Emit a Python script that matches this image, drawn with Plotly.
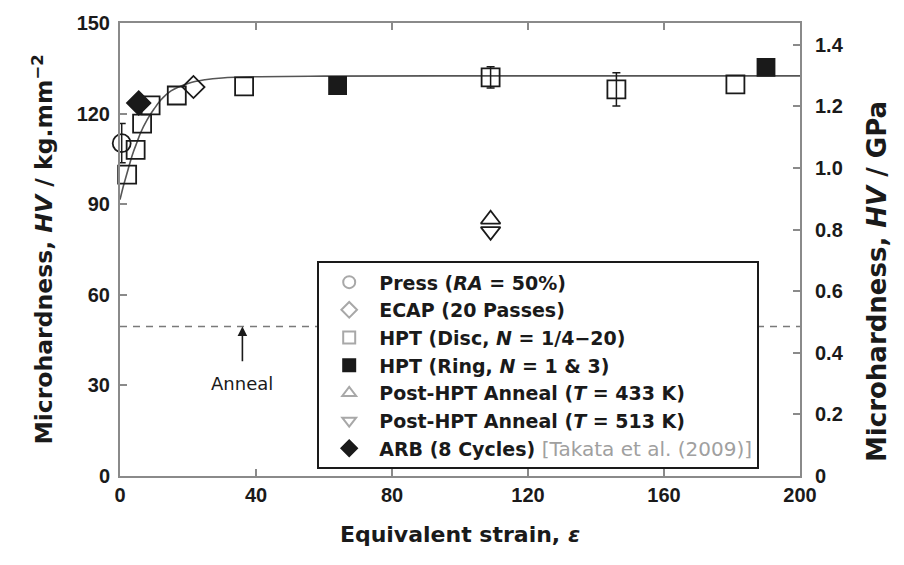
import plotly.graph_objects as go

# Microhardness vs equivalent strain for the different SPD routes
press_eps = [0.5]
press_hv = [110.2]
press_err = [6.5]

ecap_eps = [21.6]
ecap_hv = [128.8]

disc_eps = [2.1, 4.6, 6.5, 9.0, 16.7, 36.5, 109, 146, 181]
disc_hv = [99.8, 108.0, 116.7, 122.7, 126.0, 129.0, 132.0, 128.0, 129.7]
disc_err = [0, 0, 0, 0, 0, 0, 3.5, 5.5, 0]

ring_eps = [64, 190]
ring_hv = [129.3, 135.3]

ann433_eps = [109]
ann433_hv = [85.0]

ann513_eps = [109]
ann513_hv = [81.0]

arb_eps = [5.5]
arb_hv = [123.5]

# saturation trend line
fit_eps = [0, 1, 2, 3, 4, 5, 6, 8, 10, 12, 15, 20, 25, 30, 40, 60, 100, 150, 200]
fit_hv = [91.5, 96, 100, 104, 107.5, 110.5, 113.5, 118, 121.5, 124.5, 127.5,
          130, 131.2, 131.8, 132.2, 132.4, 132.5, 132.5, 132.5]

anneal_hv = 49.5
hv_ticks = [0, 30, 60, 90, 120, 150]
eps_ticks = [0, 40, 80, 120, 160, 200]
gpa_ticks = [0, 0.2, 0.4, 0.6, 0.8, 1.0, 1.2, 1.4]
gpa_labels = ["0", "0.2", "0.4", "0.6", "0.8", "1.0", "1.2", "1.4"]
HV_TO_GPA = 9.80665 / 1000.0

TICK_FONT = "Liberation Sans"
TEXT_FONT = "DejaVu Sans"
INK = "#1a1a1a"
FRAME = "#8a8a8a"
LEG_GREY = "#a8a8a8"

fig = go.Figure()

# trend curve
fig.add_trace(go.Scatter(x=fit_eps, y=fit_hv, mode="lines", line=dict(color="#555", width=1.6, shape="spline"),
                         showlegend=False, hoverinfo="skip"))

# annealed reference level
fig.add_trace(go.Scatter(x=[0, 200], y=[anneal_hv, anneal_hv], mode="lines",
                         line=dict(color="#7a7a7a", width=1.4, dash="7px,6px"),
                         showlegend=False, hoverinfo="skip"))


def data_trace(x, y, symbol, size, fill, err=None):
    t = go.Scatter(x=x, y=y, mode="markers", showlegend=False, cliponaxis=False,
                   marker=dict(symbol=symbol, size=size, color=fill,
                               line=dict(color=INK, width=1.8)))
    if err is not None:
        t.error_y = dict(type="data", array=err, visible=True, color=INK, thickness=1.5, width=4)
    return t


# disc points: those with a scatter band get error bars
with_err = [i for i, e in enumerate(disc_err) if e > 0]
no_err = [i for i, e in enumerate(disc_err) if e == 0]
fig.add_trace(data_trace([disc_eps[i] for i in no_err], [disc_hv[i] for i in no_err], "square-open", 18, INK))
fig.add_trace(data_trace([disc_eps[i] for i in with_err], [disc_hv[i] for i in with_err], "square-open", 18, INK,
                         [disc_err[i] for i in with_err]))
fig.add_trace(data_trace(press_eps, press_hv, "circle-open", 18, INK, press_err))
fig.add_trace(data_trace(ecap_eps, ecap_hv, "diamond-open", 17, INK))
fig.add_trace(data_trace(ann433_eps, ann433_hv, "triangle-up-open", 17, INK))
fig.add_trace(data_trace(ann513_eps, ann513_hv, "triangle-down-open", 17, INK))
fig.add_trace(data_trace(ring_eps, ring_hv, "square", 17, INK))
fig.add_trace(data_trace(arb_eps, arb_hv, "diamond", 18, INK))

# legend entries (drawn in light grey for the open symbols)
legend_items = [
    ("Press (<i>RA</i> = 50%)", "circle-open", LEG_GREY),
    ("ECAP (20 Passes)", "diamond-open", LEG_GREY),
    ("HPT (Disc, <i>N</i> = 1/4−20)", "square-open", LEG_GREY),
    ("HPT (Ring, <i>N</i> = 1 &amp; 3)", "square", INK),
    ("Post-HPT Anneal (<i>T</i> = 433 K)", "triangle-up-open", LEG_GREY),
    ("Post-HPT Anneal (<i>T</i> = 513 K)", "triangle-down-open", LEG_GREY),
    ("ARB (8 Cycles) <span style='color:#a0a0a0;font-weight:normal;font-size:20px'>[Takata et al. (2009)]</span>",
     "diamond", INK),
]
for name, sym, col in legend_items:
    fig.add_trace(go.Scatter(x=[None], y=[None], mode="markers", name=name,
                             marker=dict(symbol=sym, size=14, color=col, line=dict(color=col, width=1.5))))

# GPa scale on the right
fig.add_trace(go.Scatter(x=[None], y=[None], yaxis="y2", showlegend=False, hoverinfo="skip"))

fig.add_annotation(x=36, y=anneal_hv, ax=36, ay=37.5, axref="x", ayref="y", text="",
                   showarrow=True, arrowhead=2, arrowsize=1.2, arrowwidth=1.6, arrowcolor=INK)
fig.add_annotation(x=36, y=30.6, text="Anneal", showarrow=False,
                   font=dict(family=TEXT_FONT, size=18, color=INK))

# right-hand axis title
fig.add_annotation(x=1.113, y=0.43, xref="paper", yref="paper", xanchor="center", yanchor="middle",
                   text="Microhardness, <i>HV</i> / GPa", textangle=-90, showarrow=False,
                   font=dict(family=TEXT_FONT, size=26, color=INK, weight="bold"))

tickfont = dict(family=TICK_FONT, size=20, color=INK, weight="bold")
ytitlefont = dict(family=TEXT_FONT, size=23.5, color=INK, weight="bold")
xtitlefont = dict(family=TEXT_FONT, size=22, color=INK, weight="bold")

fig.update_layout(
    width=904, height=565,
    margin=dict(l=120, r=104, t=20, b=89),
    paper_bgcolor="white", plot_bgcolor="white",
    showlegend=True,
    legend=dict(x=0.29, y=0.474, xanchor="left", yanchor="top",
                bgcolor="white", bordercolor=INK, borderwidth=2,
                font=dict(family=TEXT_FONT, size=19, color=INK, weight="bold"),
                itemsizing="constant", itemwidth=50, tracegroupgap=0),
    xaxis=dict(range=[0, 200], tickvals=eps_ticks, ticks="inside", ticklen=7, tickwidth=1.5,
               tickcolor=FRAME, showline=True, linecolor=FRAME, linewidth=2, mirror="ticks",
               showgrid=False, zeroline=False, tickfont=tickfont,
               title=dict(text="Equivalent strain, <i>ε</i>", font=xtitlefont, standoff=22)),
    yaxis=dict(range=[0, 150], tickvals=hv_ticks, ticks="inside", ticklen=7, tickwidth=1.5,
               tickcolor=FRAME, showline=True, linecolor=FRAME, linewidth=2, mirror=True,
               showgrid=False, zeroline=False, tickfont=tickfont, ticklabelstandoff=4,
               title=dict(text="Microhardness, <i>HV</i> / kg.mm<sup>−2</sup>", font=ytitlefont, standoff=17)),
    yaxis2=dict(overlaying="y", side="right", range=[0, 150 * HV_TO_GPA], tickvals=gpa_ticks,
                ticktext=gpa_labels, ticks="inside", ticklen=7, tickwidth=1.5, tickcolor=FRAME,
                showline=False, showgrid=False, zeroline=False, tickfont=tickfont, ticklabelstandoff=14),
)

fig.write_html("out.html")
